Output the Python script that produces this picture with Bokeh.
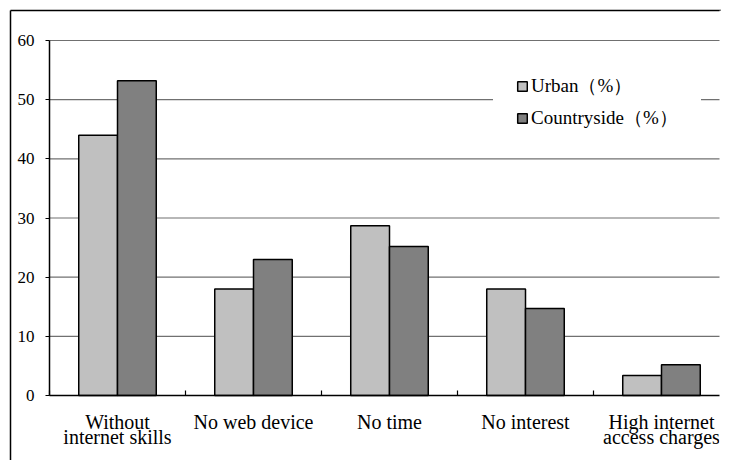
from bokeh.plotting import figure
from bokeh.models import (Range1d, FixedTicker, Legend, LegendItem, ColumnDataSource,
                          LinearAxis, BoxAnnotation)
from bokeh.embed import file_html
from bokeh.resources import INLINE

categories = ["Without\ninternet skills", "No web device", "No time", "No interest", "High internet\naccess charges"]
urban = [44.0, 18.0, 28.7, 18.0, 3.4]
countryside = [53.2, 23.0, 25.2, 14.7, 5.2]
y_ticks = [0, 10, 20, 30, 40, 50, 60]
series_names = ["Urban（%）", "Countryside（%）"]

FONT = "Liberation Serif"
n = len(categories)
bw = 0.285
centers = [i + 0.5 for i in range(n)]

# page geometry (pixels)
W, H = 721, 460
OUT = 10                      # outer chart-area border (left / top)
IL, IT, IB = 49, 40, 395      # inner plot area left / top / bottom
cat_px = 136.0
y_max = y_ticks[-1]
py = (IB - IT) / y_max

x_range = Range1d(-(IL - OUT) / cat_px, (W - IL) / cat_px)
y_range = Range1d(-(H - IB) / py, y_max + (IT - OUT) / py)

p = figure(width=W, height=H, output_backend="svg", toolbar_location=None, title=None,
           x_range=x_range, y_range=y_range, x_axis_type=None, y_axis_type=None,
           min_border_left=OUT, min_border_top=OUT, min_border_right=0, min_border_bottom=0)
p.outline_line_color = None
p.background_fill_color = "white"
p.border_fill_color = "white"

# horizontal gridlines of the inner plot area
p.segment(x0=0, x1=n, y0=y_ticks[1:], y1=y_ticks[1:], line_color="#707070", line_width=1.2)

src_u = ColumnDataSource(dict(x=[c - bw / 2 for c in centers], top=urban))
src_c = ColumnDataSource(dict(x=[c + bw / 2 for c in centers], top=countryside))
r_u = p.vbar(x="x", top="top", width=bw, source=src_u, fill_color="#C0C0C0",
             line_color="black", line_width=1.5)
r_c = p.vbar(x="x", top="top", width=bw, source=src_c, fill_color="#808080",
             line_color="black", line_width=1.5)

# x axis (inside the outer box, at y = 0)
xa = LinearAxis(fixed_location=0, bounds=(0, n),
                ticker=FixedTicker(ticks=centers, minor_ticks=list(range(n + 1))))
xa.major_label_overrides = {c: lab for c, lab in zip(centers, categories)}
xa.major_tick_in = 0
xa.major_tick_out = 0
xa.minor_tick_in = 5
xa.minor_tick_out = 0
xa.minor_tick_line_color = "black"
xa.minor_tick_line_width = 1.2
xa.axis_line_color = "black"
xa.axis_line_width = 1.5
xa.major_label_text_font = FONT
xa.major_label_text_font_size = "20px"
xa.major_label_text_line_height = 0.7
xa.major_label_text_color = "black"
xa.major_label_standoff = 15
p.add_layout(xa, "below")

# y axis (inside the outer box, at x = 0)
ya = LinearAxis(fixed_location=0, bounds=(0, y_max), ticker=FixedTicker(ticks=y_ticks))
ya.major_tick_in = 0
ya.major_tick_out = 4
ya.minor_tick_line_color = None
ya.axis_line_color = "black"
ya.axis_line_width = 1.5
ya.major_tick_line_color = "black"
ya.major_label_text_font = FONT
ya.major_label_text_font_size = "17px"
ya.major_label_text_color = "black"
ya.major_label_standoff = 11
p.add_layout(ya, "left")


def border_axis():
    ax = LinearAxis(ticker=FixedTicker(ticks=[]))
    ax.major_tick_in = 0
    ax.major_tick_out = 0
    ax.minor_tick_in = 0
    ax.minor_tick_out = 0
    ax.major_tick_line_color = None
    ax.minor_tick_line_color = None
    ax.major_label_standoff = 0
    ax.major_label_text_font_size = "0px"
    ax.axis_line_color = "black"
    ax.axis_line_width = 1.5
    return ax


# outer chart-area border: left and top edges
p.add_layout(border_axis(), "left")
p.add_layout(border_axis(), "above")

legend = Legend(items=[LegendItem(label=series_names[0], renderers=[r_u]),
                       LegendItem(label=series_names[1], renderers=[r_c])],
                location=(483, 306), orientation="vertical")
legend.border_line_color = "white"
legend.border_line_width = 1
legend.background_fill_color = "white"
legend.background_fill_alpha = 1.0
legend.padding = 22
legend.margin = 0
legend.spacing = 6
legend.glyph_width = 12
legend.glyph_height = 12
legend.label_height = 20
legend.label_standoff = 3
legend.label_text_font = FONT
legend.label_text_font_size = "19px"
legend.label_text_color = "black"
p.add_layout(legend, "center")

# keep the right and bottom canvas edges clean (the box continues past the page edge)
x_hi = x_range.end + 1
y_lo = y_range.start - 1
p.add_layout(BoxAnnotation(left=(W - 2 - IL) / cat_px, right=x_hi, bottom=y_lo, top=y_range.end + 1,
                           fill_color="white", fill_alpha=1, line_color=None, level="overlay"))
p.add_layout(BoxAnnotation(left=x_range.start + 3 / cat_px, right=x_hi, bottom=y_lo, top=-(H - 2 - IB) / py,
                           fill_color="white", fill_alpha=1, line_color=None, level="overlay"))

open("out.html", "w").write(file_html(p, INLINE))
